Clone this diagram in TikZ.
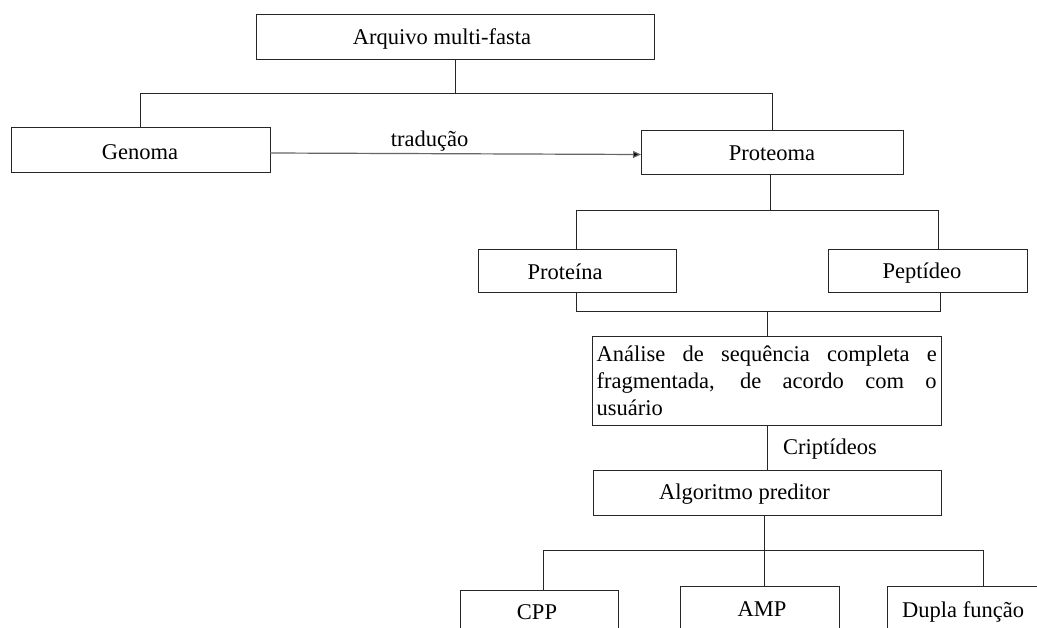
\documentclass[tikz,border=0pt]{standalone}
\usepackage{fontspec}
\setmainfont{Liberation Serif}
\usetikzlibrary{arrows.meta}
\begin{document}
\begin{tikzpicture}[x=1pt,y=-1pt,
  box/.style={draw=black!85, line width=1pt, rectangle, inner sep=0pt, outer sep=0pt, anchor=north west},
  conn/.style={draw=black!85, line width=1pt},
  arr/.style={draw=black!60, line width=1.2pt, -{Triangle[length=8pt,width=7pt,fill=black]}},
  txt/.style={inner sep=0pt, font=\fontsize{22.5}{27}\selectfont}]
\useasboundingbox (0,0) rectangle (1037,628);
\fill[white] (0,0) rectangle (1037,628);

% boxes
\node[box, minimum width=398pt, minimum height=45pt] (arq) at (256,15) {};
\node[box, minimum width=259pt, minimum height=45pt] (gen) at (11,128) {};
\node[box, minimum width=262pt, minimum height=44pt] (prt) at (641,131) {};
\node[box, minimum width=198pt, minimum height=43.5pt] (pna) at (478,249.5) {};
\node[box, minimum width=199pt, minimum height=43.5pt] (pep) at (828.5,249.5) {};
\node[box, minimum width=348.5pt, minimum height=89pt] (ana) at (592.5,337) {};
\node[box, minimum width=348pt, minimum height=44.3pt] (alg) at (593,470.7) {};
\node[box, minimum width=158pt, minimum height=60pt] (cpp) at (460.7,590) {};
\node[box, minimum width=158.6pt, minimum height=60pt] (amp) at (680.7,586) {};
\node[box, minimum width=200pt, minimum height=60pt] (dup) at (887.7,586) {};

% texts
\node[txt, anchor=base] (tarq) at (442,45) {Arquivo multi-fasta};
\node[txt, anchor=base] (tgen) at (140,160) {Genoma};
\node[txt, anchor=base] (tprt) at (772,160.5) {Proteoma};
\node[txt, anchor=base] (tpna) at (565,280) {Proteína};
\node[txt, anchor=base] (tpep) at (922,279) {Peptídeo};
\node[txt, anchor=base west] (tana1) at (596.5,362) {\makebox[340pt][s]{Análise de sequência completa e}};
\node[txt, anchor=base west] (tana2) at (596.5,389) {\makebox[340pt][s]{fragmentada, de acordo com o}};
\node[txt, anchor=base west] (tana3) at (596.5,416) {usuário};
\node[txt, anchor=base west] (talg) at (659,499) {Algoritmo preditor};
\node[txt, anchor=base] (tcpp) at (537,619) {CPP};
\node[txt, anchor=base] (tamp) at (762,616) {AMP};
\node[txt, anchor=base west] (tdup) at (902,617) {Dupla função};

% connectors: top
\coordinate (j1) at (455,93.3);
\draw[conn] (arq.south) -- (j1);
\draw[conn] (gen.north) |- (j1) -| (prt.north);

% genoma -> proteoma
\draw[arr] ([yshift=-2.5pt]gen.east) -- ([yshift=-1.5pt]prt.west)
  node[txt, pos=0.43, anchor=base, yshift=7pt] (ttrad) {tradução};

% proteoma -> proteina / peptideo
\coordinate (b1) at (770,211);
\coordinate (b1l) at (576.5,211);
\coordinate (b1r) at (938.5,211);
\draw[conn] (prt.south -| b1) -- (b1);
\draw[conn] (b1l |- pna.north) -- (b1l) -- (b1r) -- (b1r |- pep.north);

% proteina / peptideo -> analise
\coordinate (b2) at (767,311.5);
\coordinate (b2l) at (576.5,311.5);
\coordinate (b2r) at (940,311.5);
\draw[conn] (b2l |- pna.south) -- (b2l) -- (b2r) -- (b2r |- pep.south);
\draw[conn] (b2) -- (b2 |- ana.north);

% analise -> algoritmo
\coordinate (c1) at (767,448);
\draw[conn] (ana.south -| c1) -- (alg.north -| c1);
\node[txt, anchor=base west] (tcri) at (783,454) {Criptídeos};

% algoritmo -> outputs
\coordinate (d) at (764.5,550.5);
\coordinate (dl) at (543.3,550.5);
\coordinate (dr) at (983.5,550.5);
\draw[conn] (alg.south -| d) -- (d);
\draw[conn] (dl |- cpp.north) -- (dl) -- (dr) -- (dr |- dup.north);
\draw[conn] (d) -- (d |- amp.north);
\end{tikzpicture}
\end{document}
